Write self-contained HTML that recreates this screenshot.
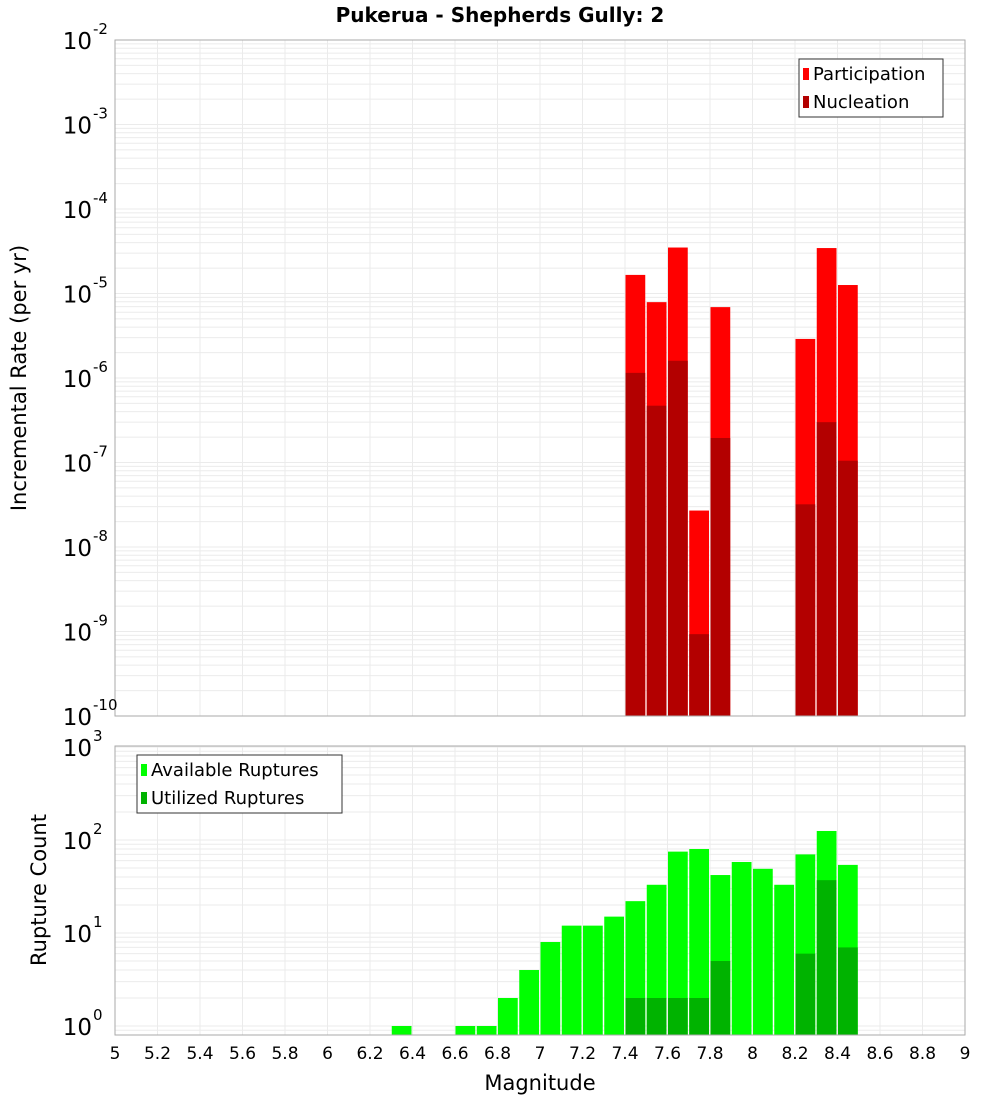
<!DOCTYPE html>
<html><head><meta charset="utf-8"><style>
body{margin:0;background:#fff;}
svg{display:block;font-family:"DejaVu Sans","Liberation Sans",sans-serif;}
</style></head><body>
<svg id="c" width="1000" height="1100">
<text x="500" y="22" text-anchor="middle" font-weight="bold" font-size="20">Pukerua - Shepherds Gully: 2</text>
</svg>
<script>
const bins = [6.35,6.45,6.55,6.65,6.75,6.85,6.95,7.05,7.15,7.25,7.35,7.45,7.55,7.65,7.75,7.85,7.95,8.05,8.15,8.25,8.35,8.45];
const rateBins = [7.45,7.55,7.65,7.75,7.85,8.25,8.35,8.45];
const participation = [1.66e-5,7.9e-6,3.5e-5,2.7e-8,6.9e-6,2.9e-6,3.45e-5,1.26e-5];
const nucleation = [1.15e-6,4.7e-7,1.6e-6,9.3e-10,1.95e-7,3.2e-8,3.0e-7,1.05e-7];
const countBins = [6.35,6.65,6.75,6.85,6.95,7.05,7.15,7.25,7.35,7.45,7.55,7.65,7.75,7.85,7.95,8.05,8.15,8.25,8.35,8.45];
const available = [1,1,1,2,4,8,12,12,15,22,33,75,80,42,58,49,33,70,125,54];
const utilBins = [7.45,7.55,7.65,7.75,7.85,8.25,8.35,8.45];
const utilized = [2,2,2,2,5,6,37,7];
const xTicks = [5,5.2,5.4,5.6,5.8,6,6.2,6.4,6.6,6.8,7,7.2,7.4,7.6,7.8,8,8.2,8.4,8.6,8.8,9];
const topExps = [-2,-3,-4,-5,-6,-7,-8,-9,-10];
const botExps = [3,2,1,0];

const NS='http://www.w3.org/2000/svg';
const svg=document.getElementById('c');
function el(t,a,p){const e=document.createElementNS(NS,t);for(const k in a)e.setAttribute(k,a[k]);(p||svg).appendChild(e);return e;}
const X0=115,X1=965;
const xs=v=>X0+(v-5)/4*(X1-X0);
const T0=40,T1=716; const yTop=v=>T0+(-2-Math.log10(v))*84.5;
const B0=746,B1=1035; const yBot=v=>1026-Math.log10(v)*93;
const bw=(X1-X0)/40;

function panel(y0,y1,ys,loExp,hiExp,name){
  const g=el('g',{},svg);
  
  
  for(let e=loExp-1;e<=hiExp;e++)for(let m=1;m<10;m++){const y=ys(m*Math.pow(10,e));if(y>=y0&&y<=y1)el('line',{x1:X0,x2:X1,y1:y,y2:y,stroke:'#ebebeb','stroke-width':1},g);}
  xTicks.forEach(t=>{const x=xs(t);el('line',{x1:x,x2:x,y1:y0,y2:y1,stroke:'#ebebeb','stroke-width':1},g);});
}
panel(T0,T1,yTop,-10,-2,'top');
panel(B0,B1,yBot,0,3,'bottom');

function bar(xc,v,ys,base,color,name){
  const y=ys(v);
  const r=el('rect',{x:xs(xc)-bw/2+0.5,y:y,width:bw-1.5,height:base-y,fill:color});
  
  
}
rateBins.forEach((b,i)=>bar(b,participation[i],yTop,T1,'#ff0000','participation-bar'));
rateBins.forEach((b,i)=>bar(b,nucleation[i],yTop,T1,'#b30000','nucleation-bar'));
countBins.forEach((b,i)=>bar(b,available[i],yBot,B1,'#00ff00','available-bar'));
utilBins.forEach((b,i)=>bar(b,utilized[i],yBot,B1,'#00b300','utilized-bar'));

el('rect',{x:X0,y:T0,width:X1-X0,height:T1-T0,fill:'none',stroke:'#aaa'});
el('rect',{x:X0,y:B0,width:X1-X0,height:B1-B0,fill:'none',stroke:'#aaa'});

function ylab(exp,y){
  const t=el('text',{x:92,y:y+9,'text-anchor':'end','font-size':23});
  t.textContent='10';
  
  
  const s=el('text',{x:93,y:y-6,'font-size':15});
  s.textContent=String(exp);
  
  
}
topExps.forEach(e=>ylab(e,yTop(Math.pow(10,e))));
botExps.forEach(e=>ylab(e,yBot(Math.pow(10,e))));
xTicks.forEach(t=>{
  const tx=el('text',{x:xs(t),y:1059,'text-anchor':'middle','font-size':17});
  tx.textContent=String(t);
  
  
});
let a=el('text',{x:540,y:1090,'text-anchor':'middle','font-size':21});a.textContent='Magnitude';


a=el('text',{x:0,y:0,'text-anchor':'middle','font-size':21,transform:'translate(26,378) rotate(-90)'});a.textContent='Incremental Rate (per yr)';


a=el('text',{x:0,y:0,'text-anchor':'middle','font-size':21,transform:'translate(46,890) rotate(-90)'});a.textContent='Rupture Count';



function legend(x,y,w,items,name){
  const g=el('g',{});
  
  
  el('rect',{x:x,y:y,width:w,height:58,fill:'#fff',stroke:'#333'},g);
  items.forEach((it,i)=>{
    el('rect',{x:x+4,y:y+9+i*28,width:6,height:12,fill:it[1]},g);
    const t=el('text',{x:x+14,y:y+21+i*28,'font-size':18},g);t.textContent=it[0];
  });
}
legend(799,59,144,[['Participation','#ff0000'],['Nucleation','#b30000']],'top-legend');
legend(137,755,205,[['Available Ruptures','#00ff00'],['Utilized Ruptures','#00b300']],'bottom-legend');
</script>
</body></html>
